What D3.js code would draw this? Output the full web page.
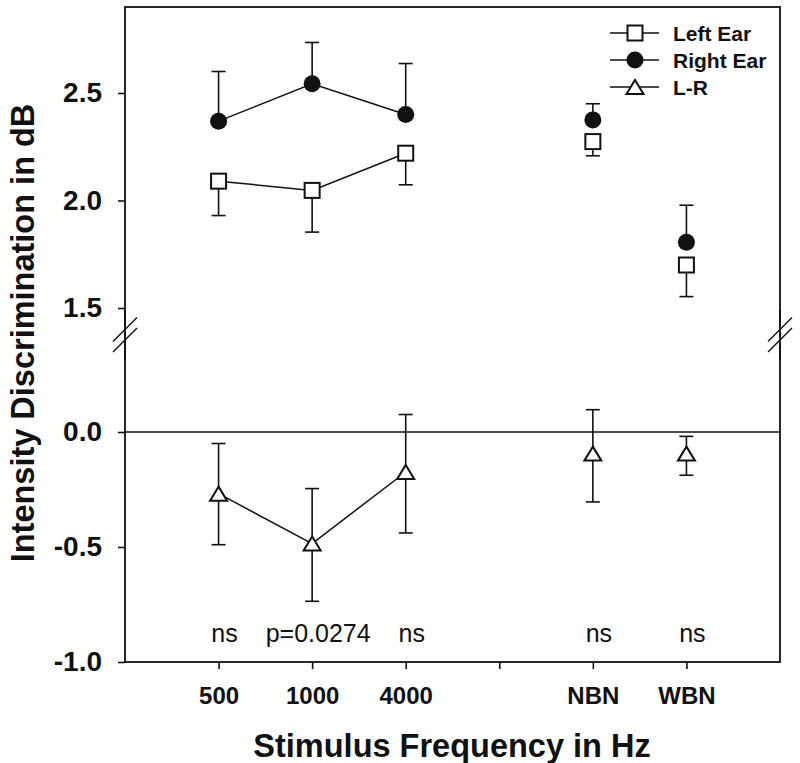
<!DOCTYPE html>
<html>
<head>
<meta charset="utf-8">
<script src="https://cdn.jsdelivr.net/npm/d3@7"></script>
<style>
  html, body { margin: 0; padding: 0; background: #fff; }
  svg { display: block; font-family: Arial, "Liberation Sans", Helvetica, sans-serif; }
</style>
</head>
<body>
<svg id="chart" width="800" height="763"></svg>
<script>
// ---------- data ----------
const tickLabels = ["500", "1000", "4000", "", "NBN", "WBN"];
const tickPositions = [1, 2, 3, 4, 5, 6];
const categories = ["500", "1000", "4000", "NBN", "WBN"];
const catPositions = [1, 2, 3, 5, 6];

const leftEar     = [2.09, 2.047, 2.22, 2.274, 1.70];
const leftEarLow  = [1.93, 1.853, 2.073, 2.208, 1.553];

const rightEar     = [2.369, 2.543, 2.40, 2.375, 1.806];
const rightEarHigh = [2.60, 2.735, 2.637, 2.45, 1.978];

const lrDiff     = [-0.268, -0.485, -0.174, -0.094, -0.094];
const lrDiffHigh = [-0.05, -0.246, 0.076, 0.097, -0.019];
const lrDiffLow  = [-0.49, -0.736, -0.439, -0.304, -0.188];

const sigLabels = ["ns", "p=0.0274", "ns", "ns", "ns"];

const upperTicks = [1.5, 2.0, 2.5];
const lowerTicks = [-1.0, -0.5, 0.0];

const legendLabels = ["Left Ear", "Right Ear", "L-R"];

// ---------- layout ----------
const svg = d3.select("#chart");
const L = 125, R = 780, T = 7, B = 662;
const x = d3.scaleLinear().domain([0, 7]).range([L, R]);
const yUp = d3.scaleLinear().domain([1.4, 2.9]).range([329.5, T]);
const yLow = d3.scaleLinear().domain([-1.0, 0.4]).range([B, 340]);
const connected = 3; // first three points joined

const ink = "#111";

// frame
svg.append("rect").attr("x", L).attr("y", T).attr("width", R - L).attr("height", B - T)
  .attr("fill", "none").attr("stroke", ink).attr("stroke-width", 1.8);

// zero line
svg.append("line").attr("x1", L).attr("x2", R).attr("y1", yLow(0)).attr("y2", yLow(0))
  .attr("stroke", ink).attr("stroke-width", 1.4);

// axes
function styleAxis(g, fs) {
  g.select(".domain").remove();
  g.selectAll(".tick line").attr("stroke", ink).attr("stroke-width", 1.6);
  g.selectAll(".tick text").attr("fill", ink).attr("font-size", fs).attr("font-weight", "bold")
    .attr("font-family", "Arial, 'Liberation Sans', sans-serif");
}
const fmt = d => d.toFixed(1);
svg.append("g").attr("transform", `translate(${L},0)`)
  .call(d3.axisLeft(yUp).tickValues(upperTicks).tickFormat(fmt).tickSize(7).tickPadding(16))
  .call(g => styleAxis(g, 28));
svg.append("g").attr("transform", `translate(${L},0)`)
  .call(d3.axisLeft(yLow).tickValues(lowerTicks).tickFormat(fmt).tickSize(7).tickPadding(16))
  .call(g => styleAxis(g, 28));
svg.append("g").attr("transform", `translate(0,${B})`)
  .call(d3.axisBottom(x).tickValues(tickPositions).tickFormat((d, i) => tickLabels[i]).tickSize(7).tickPadding(18))
  .call(g => styleAxis(g, 24));

// axis breaks
[L, R].forEach(bx => {
  [yUp(1.4), yLow(0.4)].forEach(by => {
    svg.append("line").attr("x1", bx - 12).attr("y1", by + 12).attr("x2", bx + 12).attr("y2", by - 12)
      .attr("stroke", "#fff").attr("stroke-width", 4);
  });
  [yUp(1.4), yLow(0.4)].forEach(by => {
    svg.append("line").attr("x1", bx - 12).attr("y1", by + 12).attr("x2", bx + 12).attr("y2", by - 12)
      .attr("stroke", ink).attr("stroke-width", 1.4);
  });
});
// redraw axis line through break region
svg.append("line").attr("x1", L).attr("x2", L).attr("y1", 310).attr("y2", 360).attr("stroke", ink).attr("stroke-width", 1.8);
svg.append("line").attr("x1", R).attr("x2", R).attr("y1", 310).attr("y2", 360).attr("stroke", ink).attr("stroke-width", 1.8);

// axis titles
svg.append("text").attr("x", 452).attr("y", 757).attr("text-anchor", "middle")
  .attr("font-size", 32.5).attr("font-weight", "bold").attr("fill", ink)
  .text("Stimulus Frequency in Hz");
svg.append("text").attr("transform", "translate(33.5,333) rotate(-90)").attr("text-anchor", "middle")
  .attr("font-size", 32.5).attr("font-weight", "bold").attr("fill", ink)
  .text("Intensity Discrimination in dB");

// ---------- marks ----------
const capW = 7;
function errBar(xp, y1, y2) {
  svg.append("line").attr("x1", xp).attr("x2", xp).attr("y1", y1).attr("y2", y2)
    .attr("stroke", ink).attr("stroke-width", 1.6);
  svg.append("line").attr("x1", xp - capW).attr("x2", xp + capW).attr("y1", y2).attr("y2", y2)
    .attr("stroke", ink).attr("stroke-width", 1.6);
}
catPositions.forEach((p, i) => {
  errBar(x(p), yUp(leftEar[i]), yUp(leftEarLow[i]));
  errBar(x(p), yUp(rightEar[i]), yUp(rightEarHigh[i]));
  errBar(x(p), yLow(lrDiff[i]), yLow(lrDiffHigh[i]));
  errBar(x(p), yLow(lrDiff[i]), yLow(lrDiffLow[i]));
});

const lineGen = (ys) => d3.line().x((d, i) => x(catPositions[i])).y(d => ys(d));
[[leftEar, yUp], [rightEar, yUp], [lrDiff, yLow]].forEach(([vals, ys]) => {
  svg.append("path").attr("d", lineGen(ys)(vals.slice(0, connected)))
    .attr("fill", "none").attr("stroke", ink).attr("stroke-width", 1.5);
});

function square(g, cx, cy) {
  g.append("rect").attr("x", cx - 7.5).attr("y", cy - 7.5).attr("width", 15).attr("height", 15)
    .attr("fill", "#fff").attr("stroke", ink).attr("stroke-width", 2);
}
function circle(g, cx, cy) {
  g.append("circle").attr("cx", cx).attr("cy", cy).attr("r", 8.5).attr("fill", ink);
}
function triangle(g, cx, cy) {
  const w = 17, h = 14;
  g.append("path").attr("d", `M${cx},${cy - h / 2}L${cx + w / 2},${cy + h / 2}L${cx - w / 2},${cy + h / 2}Z`)
    .attr("fill", "#fff").attr("stroke", ink).attr("stroke-width", 2).attr("stroke-linejoin", "miter");
}
catPositions.forEach((p, i) => {
  square(svg, x(p), yUp(leftEar[i]));
  circle(svg, x(p), yUp(rightEar[i]));
  triangle(svg, x(p), yLow(lrDiff[i]));
});

// significance labels
catPositions.forEach((p, i) => {
  svg.append("text").attr("x", x(p) + 6).attr("y", 642).attr("text-anchor", "middle")
    .attr("font-size", 25).attr("fill", ink).text(sigLabels[i]);
});

// legend
const legY = [33, 60, 87];
const markerFns = [square, circle, triangle];
legendLabels.forEach((lab, i) => {
  const g = svg.append("g");
  g.append("line").attr("x1", 610).attr("x2", 659).attr("y1", legY[i]).attr("y2", legY[i])
    .attr("stroke", ink).attr("stroke-width", 1.5);
  markerFns[i](g, 635, legY[i]);
  g.append("text").attr("x", 673).attr("y", legY[i] + 7.5).attr("font-size", 21).attr("font-weight", "bold")
    .attr("fill", ink).text(lab);
});
</script>
</body>
</html>
